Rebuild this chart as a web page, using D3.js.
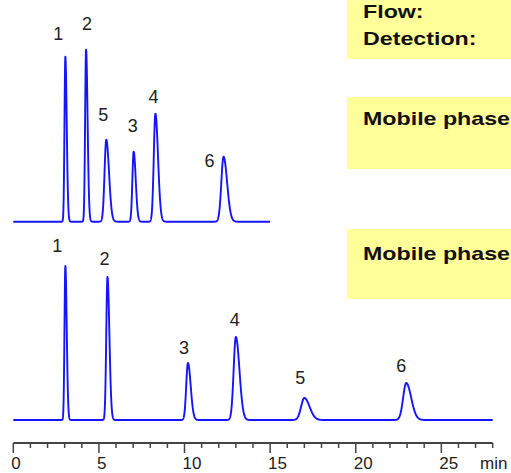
<!DOCTYPE html>
<html lang="en">
<head>
    <meta charset="UTF-8">
    <title>Chromatogram</title>
    <script src="https://d3js.org/d3.v7.min.js"></script>
    <style>
        body { margin: 0; background: #fff; }
        svg { display: block; }
        .peak-label { font-family: "Liberation Sans", Arial, sans-serif; font-size: 18px; fill: #222; }
        .tick-label { font-family: "Liberation Sans", Arial, sans-serif; font-size: 17px; fill: #222; }
        .note { font-family: "Liberation Sans", Arial, sans-serif; font-size: 18px; font-weight: bold; fill: #111; }
    </style>
</head>
<body>
    <div class="canvas"></div>
    <script>
        // ---- data ----
        const peakIds = ['1', '2', '3', '4', '5', '6'];

        // upper run (peak order 1..6)
        const runATimes   = [3.04, 4.25, 7.03, 8.30, 5.43, 12.28];   // min
        const runAHeights = [165, 172, 70, 108, 82, 65];              // signal
        const runASigmas  = [0.05, 0.055, 0.075, 0.095, 0.10, 0.13];  // min
        const runAEnd = 15;

        // lower run
        const runBTimes   = [3.04, 5.50, 10.20, 13.00, 17.00, 22.95];
        const runBHeights = [154, 143, 57, 83, 22, 37];
        const runBSigmas  = [0.05, 0.07, 0.10, 0.13, 0.19, 0.18];
        const runBEnd = 28;

        const majorTicks = [0, 5, 10, 15, 20, 25];
        const minorTicks = d3.range(0, 29, 1);
        const axisUnit = 'min';

        const boxTexts = [['Flow:', 'Detection:'], ['Mobile phase'], ['Mobile phase']];

        // ---- layout ----
        const width = 511;
        const height = 473;
        const baseA = 221.7;   // baseline of upper trace
        const baseB = 420;     // baseline of lower trace
        const axisY = 443;

        // label nudges (dx, dy from peak top)
        const labelOffA = [[-7, -17], [1, -20], [-1, -20], [-2, -11], [-3, -19], [-14, 10]];
        const labelOffB = [[-8, -14], [-3, -12], [-4, -9], [-1, -11], [-4, -14], [-5, -11]];

        const svg = d3.select('.canvas')
            .append('svg')
            .attr('width', width)
            .attr('height', height);

        const x = d3.scaleLinear().domain([0, 28]).range([13.3, 492.7]);
        const yA = d3.scaleLinear().domain([0, 200]).range([baseA, baseA - 200]);
        const yB = d3.scaleLinear().domain([0, 200]).range([baseB, baseB - 200]);

        // yellow info boxes: [top, bottom, text baselines]
        const boxes = [[0, 59, [18, 45]], [97, 169, [125]], [229, 299, [260]]];
        boxes.forEach((b, i) => {
            svg.append('rect')
                .attr('x', 347).attr('y', b[0])
                .attr('width', width - 347).attr('height', b[1] - b[0])
                .attr('fill', '#ffff99');
            boxTexts[i].forEach((t, j) => {
                svg.append('text')
                    .attr('class', 'note')
                    .attr('transform', `translate(363, ${b[2][j]}) scale(1.29, 1)`)
                    .text(t);
            });
        });

        // peak shape with tailing on the right side
        function signal(t, times, heights, sigmas) {
            let s = 0;
            for (let i = 0; i < times.length; i++) {
                const sig = t < times[i] ? sigmas[i] : sigmas[i] * 1.6;
                const z = (t - times[i]) / sig;
                s += heights[i] * Math.exp(-0.5 * z * z);
            }
            return s;
        }

        function drawRun(times, heights, sigmas, end, y, offs) {
            const grid = d3.range(0, end + 0.0001, 0.005);
            const pts = grid.map(t => [t, signal(t, times, heights, sigmas)]);
            const line = d3.line().x(d => x(d[0])).y(d => y(d[1]));

            svg.append('path')
                .datum(pts)
                .attr('d', line)
                .attr('fill', 'none')
                .attr('stroke', '#1414ff')
                .attr('stroke-width', 1.9)
                .attr('stroke-linejoin', 'round');

            svg.selectAll(null)
                .data(peakIds)
                .enter()
                .append('text')
                .attr('class', 'peak-label')
                .attr('text-anchor', 'middle')
                .attr('x', (d, i) => x(times[i]) + offs[i][0])
                .attr('y', (d, i) => y(heights[i]) + offs[i][1])
                .text(d => d);
        }

        drawRun(runATimes, runAHeights, runASigmas, runAEnd, yA, labelOffA);
        drawRun(runBTimes, runBHeights, runBSigmas, runBEnd, yB, labelOffB);

        // time axis
        const axisG = svg.append('g').attr('transform', `translate(0, ${axisY})`);
        axisG.append('line')
            .attr('x1', x(0)).attr('x2', x(28))
            .attr('stroke', '#444').attr('stroke-width', 2);
        axisG.selectAll('.minor')
            .data(minorTicks)
            .enter().append('line')
            .attr('x1', d => x(d)).attr('x2', d => x(d))
            .attr('y1', 0).attr('y2', d => d % 5 === 0 ? 10 : 5)
            .attr('stroke', '#444').attr('stroke-width', 1.5);
        axisG.selectAll('.tick-label')
            .data(majorTicks)
            .enter().append('text')
            .attr('class', 'tick-label')
            .attr('x', d => x(d) - 2)
            .attr('y', 26)
            .text(d => d);
        axisG.append('text')
            .attr('class', 'tick-label')
            .attr('x', 480).attr('y', 26)
            .text(axisUnit);
    </script>
</body>
</html>
